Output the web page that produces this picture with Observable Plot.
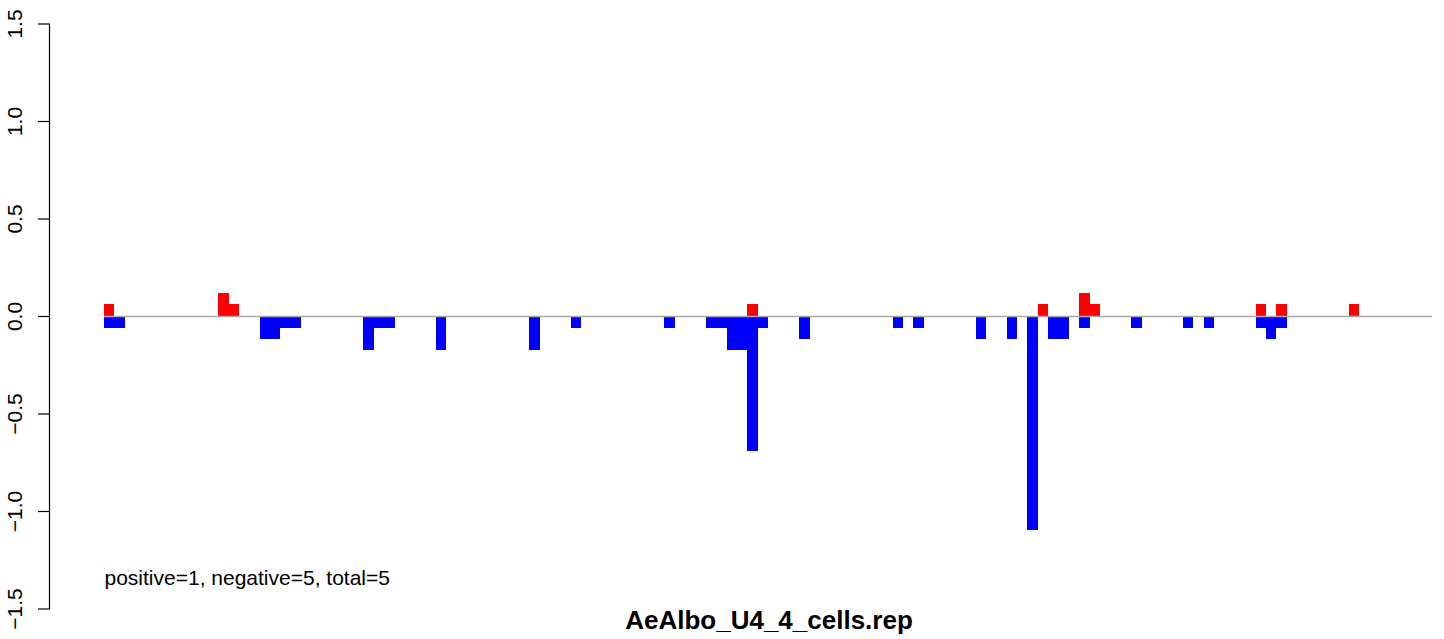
<!DOCTYPE html>
<html><head><meta charset="utf-8">
<script src="https://cdn.jsdelivr.net/npm/d3@7"></script>
<script src="https://cdn.jsdelivr.net/npm/@observablehq/plot@0.6"></script>
<style>html,body{margin:0;padding:0;background:#fff} svg{display:block}</style>
</head><body><div id="chart"></div>
<script>
const nBins = 128;
const posBins   = [0, 11, 12, 62, 90, 94, 95, 111, 113, 120];
const posValues = [0.059, 0.118, 0.059, 0.059, 0.059, 0.118, 0.059, 0.059, 0.059, 0.059];
const negBins   = [0, 1, 15, 16, 17, 18, 25, 26, 27, 32, 41, 45, 54, 58, 59, 60, 61, 62, 63, 67, 76, 78, 84, 87, 89, 91, 92, 94, 99, 104, 106, 111, 112, 113];
const negValues = [-0.059, -0.059, -0.118, -0.118, -0.059, -0.059, -0.176, -0.059, -0.059, -0.176, -0.176, -0.059, -0.059, -0.059, -0.059, -0.176, -0.176, -0.692, -0.059, -0.118, -0.059, -0.059, -0.118, -0.118, -1.095, -0.118, -0.118, -0.059, -0.059, -0.059, -0.059, -0.059, -0.118, -0.059];
const yTicks = [-1.5, -1, -0.5, 0, 0.5, 1, 1.5];
const yTickLabels = ["\u22121.5", "\u22121.0", "\u22120.5", "0.0", "0.5", "1.0", "1.5"];
const annotation = "positive=1, negative=5, total=5";
const title = "AeAlbo_U4_4_cells.rep";

const pos = posBins.map((b, i) => ({bin: b, value: posValues[i]}));
const neg = negBins.map((b, i) => ({bin: b, value: negValues[i]}));

const font = "'Liberation Sans', Arial, Helvetica, sans-serif";

const chart = Plot.plot({
  width: 1444,
  height: 639,
  marginLeft: 49,
  marginRight: 12,
  marginTop: 23.5,
  marginBottom: 30.5,
  style: {fontFamily: font, background: "#fff", color: "#000"},
  x: {domain: [0, nBins], range: [104, 1432], axis: null},
  y: {domain: [-1.5, 1.5]},
  marks: [
    Plot.rectY(pos, {x1: "bin", x2: d => d.bin + 1, y1: 0, y2: "value", fill: "#ff0000", shapeRendering: "crispEdges"}),
    Plot.rectY(neg, {x1: "bin", x2: d => d.bin + 1, y1: 0, y2: "value", fill: "#0000ff", shapeRendering: "crispEdges"}),
    Plot.ruleY([0], {x1: 0, x2: nBins, stroke: "#a8a8a8", strokeWidth: 1.4}),
    Plot.frame({anchor: "left", stroke: "#000", strokeWidth: 1.2}),
    Plot.axisY({ticks: yTicks, tickSize: 11, tickFormat: () => "", label: null, stroke: "#000", strokeWidth: 1.2}),
    Plot.text(yTicks, {y: d => d, text: (d, i) => yTickLabels[i], frameAnchor: "left", dx: -34, rotate: -90, textAnchor: "middle", fontSize: 21, fill: "#000"}),
    Plot.text([annotation], {text: d => d, frameAnchor: "bottom-left", dx: 55, dy: -24, textAnchor: "start", fontSize: 21, fill: "#000"}),
    Plot.text([title], {text: d => d, frameAnchor: "bottom", dx: 28, dy: 20, textAnchor: "middle", fontSize: 26, fontWeight: "bold", fill: "#000"})
  ]
});
document.getElementById("chart").appendChild(chart);
</script>
</body></html>
